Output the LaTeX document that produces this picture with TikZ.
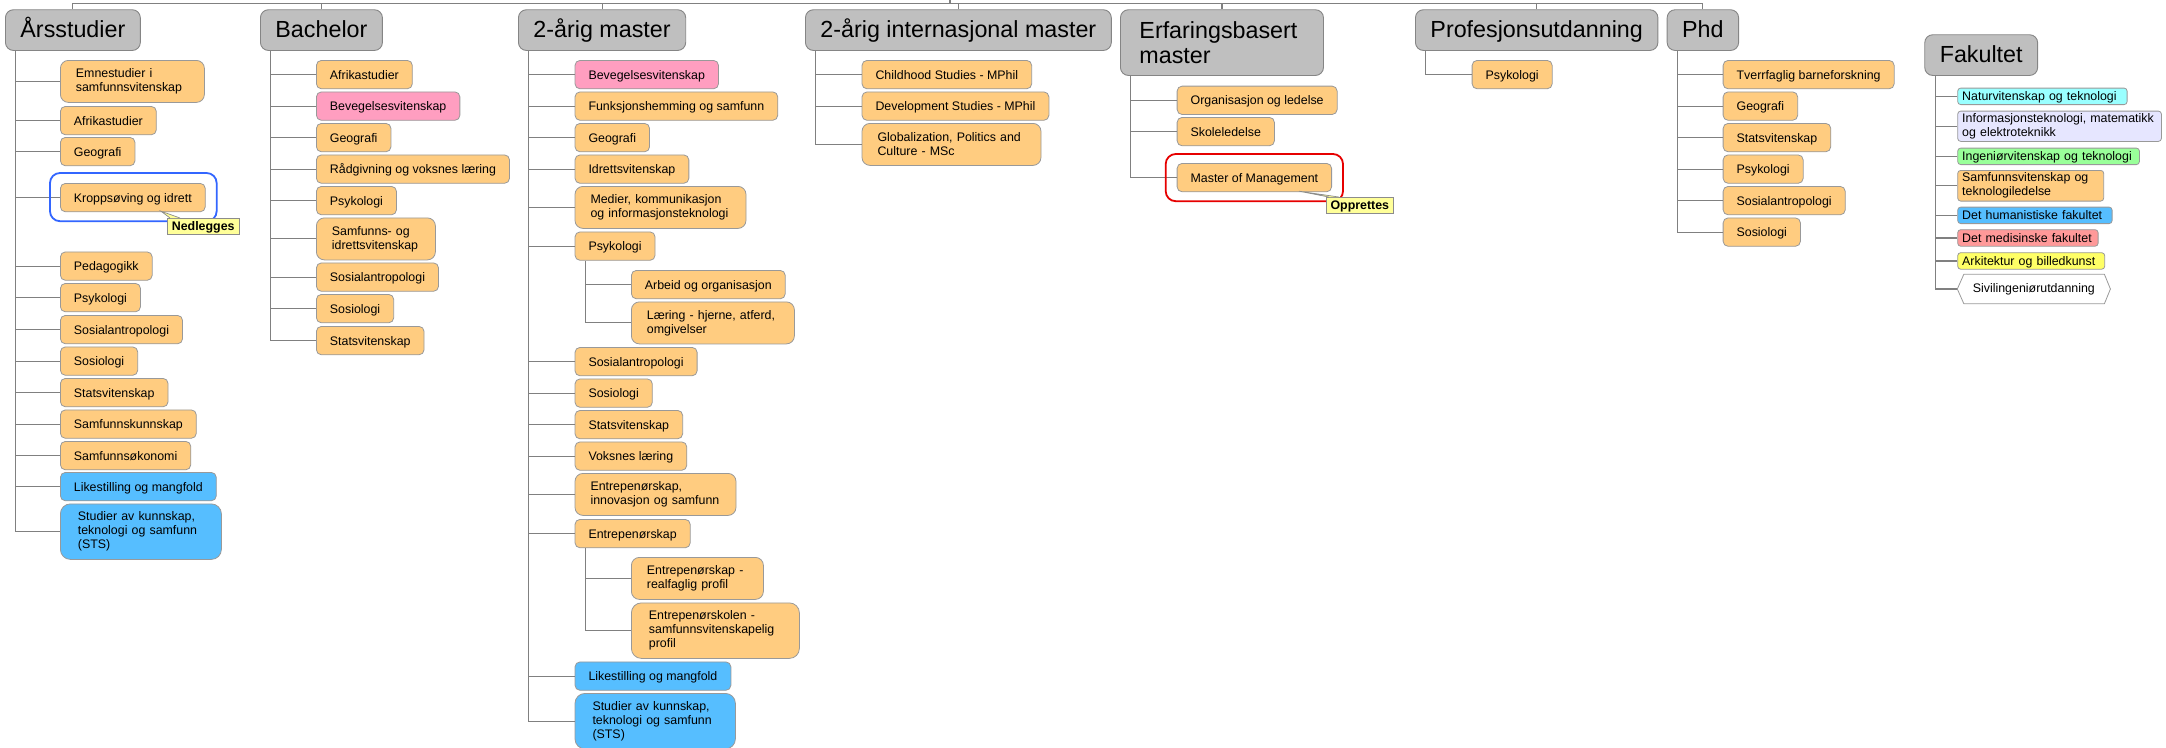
\documentclass[tikz,border=0pt]{standalone}
\usepackage{fontspec}
\setmainfont{Liberation Sans}
\definecolor{progorange}{RGB}{255,204,128}
\definecolor{progpink}{RGB}{255,158,192}
\definecolor{progblue}{RGB}{86,190,255}
\definecolor{faccyan}{RGB}{153,255,255}
\definecolor{faclavender}{RGB}{230,230,255}
\definecolor{facgreen}{RGB}{153,255,153}
\definecolor{facred}{RGB}{255,153,153}
\definecolor{facyellow}{RGB}{255,255,102}
\definecolor{tagyellow}{RGB}{255,255,153}
\definecolor{ringblue}{RGB}{51,102,255}
\definecolor{ringred}{RGB}{230,0,0}
\tikzset{
	conn/.style={draw=black!50, line width=1.1pt},
	heading/.style={draw=black!48, fill=black!25, line width=0.9pt, rounded corners=8pt, anchor=north west, inner xsep=15pt, inner ysep=0pt, minimum height=40.7pt, font=\fontsize{23.3}{25.6}\selectfont},
	onehead/.style={heading, text height=16.5pt, text depth=2pt},
	coursebase/.style={draw=black!40, fill=progorange, line width=0.8pt, rounded corners=5pt, anchor=north west, inner ysep=2pt, font=\fontsize{12.4}{14}\selectfont},
	course/.style={coursebase, inner xsep=13.5pt, minimum height=28.4pt, text height=9.4pt, text depth=0.6pt},
	coursetwo/.style={coursebase, rounded corners=8pt, inner xsep=15.5pt, align=left, minimum height=42pt},
	coursethree/.style={coursebase, rounded corners=10pt, inner xsep=17.5pt, align=left, minimum height=55.5pt},
	pinkcourse/.style={fill=progpink},
	bluecourse/.style={fill=progblue},
	facbox/.style={draw=black!40, line width=0.8pt, rounded corners=3pt, anchor=north west, inner xsep=4.5pt, inner ysep=1pt, align=left, minimum height=16.5pt, font=\fontsize{12.4}{14}\selectfont},
	faconeline/.style={facbox, text height=9.4pt, text depth=0.6pt},
	tagbox/.style={draw=black!45, fill=tagyellow, line width=0.7pt, anchor=north west, inner xsep=4.5pt, inner ysep=1pt, minimum height=15.5pt, text height=9.4pt, text depth=0.6pt, font=\bfseries\fontsize{12.4}{14}\selectfont},
	ringbox/.style={line width=1.8pt, rounded corners=10pt},
}

\begin{document}
\begin{tikzpicture}[x=1pt, y=-1pt]
	%%%%% START %%%%%
	
	\useasboundingbox (0, 0) rectangle (2166, 747);
	
	\node[onehead] (ars) at (5, 9.3) {Årsstudier};
	\node[coursetwo, text width=113pt] (ars1) at (60, 60) {Emnestudier i\\samfunnsvitenskap};
	\node[course] (ars2) at (60, 106) {Afrikastudier};
	\node[course] (ars3) at (60, 137) {Geografi};
	\node[course] (ars4) at (60, 183) {Kroppsøving og idrett};
	\node[course] (ars5) at (60, 251.5) {Pedagogikk};
	\node[course] (ars6) at (60, 283) {Psykologi};
	\node[course] (ars7) at (60, 315) {Sosialantropologi};
	\node[course] (ars8) at (60, 346.5) {Sosiologi};
	\node[course] (ars9) at (60, 378) {Statsvitenskap};
	\node[course] (ars10) at (60, 409.5) {Samfunnskunnskap};
	\node[course] (ars11) at (60, 441) {Samfunnsøkonomi};
	\node[course, bluecourse] (ars12) at (60, 472) {Likestilling og mangfold};
	\node[coursethree, bluecourse, text width=126pt] (ars13) at (60, 503.5) {Studier av kunnskap,\\teknologi og samfunn\\(STS)};
	
	\node[onehead] (bac) at (260, 9.3) {Bachelor};
	\node[course] (bac1) at (316, 60) {Afrikastudier};
	\node[course, pinkcourse] (bac2) at (316, 91.5) {Bevegelsesvitenskap};
	\node[course] (bac3) at (316, 123) {Geografi};
	\node[course] (bac4) at (316, 154.5) {Rådgivning og voksnes læring};
	\node[course] (bac5) at (316, 186) {Psykologi};
	\node[coursetwo, text width=88pt] (bac6) at (316, 217.5) {Samfunns- og\\idrettsvitenskap};
	\node[course] (bac7) at (316, 262.5) {Sosialantropologi};
	\node[course] (bac8) at (316, 294) {Sosiologi};
	\node[course] (bac9) at (316, 326) {Statsvitenskap};
	
	\node[onehead] (mas) at (518, 9.3) {2-årig master};
	\node[course, pinkcourse] (mas1) at (574.6, 60) {Bevegelsesvitenskap};
	\node[course] (mas2) at (574.6, 91.5) {Funksjonshemming og samfunn};
	\node[course] (mas3) at (574.6, 123) {Geografi};
	\node[course] (mas4) at (574.6, 154.5) {Idrettsvitenskap};
	\node[coursetwo, text width=140pt] (mas5) at (574.6, 186) {Medier, kommunikasjon\\og informasjonsteknologi};
	\node[course] (mas6) at (574.6, 231.5) {Psykologi};
	\node[course] (mas6a) at (631, 270) {Arbeid og organisasjon};
	\node[coursetwo, text width=132pt] (mas6b) at (631, 301.5) {Læring - hjerne, atferd,\\omgivelser};
	\node[course] (mas7) at (574.6, 347) {Sosialantropologi};
	\node[course] (mas8) at (574.6, 378.5) {Sosiologi};
	\node[course] (mas9) at (574.6, 410) {Statsvitenskap};
	\node[course] (mas10) at (574.6, 441.5) {Voksnes læring};
	\node[coursetwo, text width=130pt] (mas11) at (574.6, 473) {Entrepenørskap,\\innovasjon og samfunn};
	\node[course] (mas12) at (574.6, 519) {Entrepenørskap};
	\node[coursetwo, text width=101pt] (mas12a) at (631, 557) {Entrepenørskap -\\realfaglig profil};
	\node[coursethree, text width=133pt] (mas12b) at (631, 602.5) {Entrepenørskolen -\\samfunnsvitenskapelig\\profil};
	\node[course, bluecourse] (mas13) at (574.6, 661.5) {Likestilling og mangfold};
	\node[coursethree, bluecourse, text width=125.4pt] (mas14) at (574.6, 693) {Studier av kunnskap,\\teknologi og samfunn\\(STS)};
	
	\node[onehead] (int) at (805, 9.3) {2-årig internasjonal master};
	\node[course] (int1) at (861.6, 60) {Childhood Studies - MPhil};
	\node[course] (int2) at (861.6, 91.5) {Development Studies - MPhil};
	\node[coursetwo, text width=148pt] (int3) at (861.6, 123) {Globalization, Politics and\\Culture - MSc};
	
	\node[heading, align=left, text width=165pt, inner xsep=19pt, minimum height=65.7pt] (erf) at (1120, 9.3) {Erfaringsbasert\\master};
	\node[course] (erf1) at (1176.7, 85.7) {Organisasjon og ledelse};
	\node[course] (erf2) at (1176.7, 117) {Skoleledelse};
	\node[course] (erf3) at (1176.7, 163) {Master of Management};
	
	\node[onehead] (pro) at (1415, 9.3) {Profesjonsutdanning};
	\node[course] (pro1) at (1471.7, 60) {Psykologi};
	
	\node[onehead] (phd) at (1666.7, 9.3) {Phd};
	\node[course] (phd1) at (1722.7, 60) {Tverrfaglig barneforskning};
	\node[course] (phd2) at (1722.7, 91.5) {Geografi};
	\node[course] (phd3) at (1722.7, 123) {Statsvitenskap};
	\node[course] (phd4) at (1722.7, 154.5) {Psykologi};
	\node[course] (phd5) at (1722.7, 186) {Sosialantropologi};
	\node[course] (phd6) at (1722.7, 217.5) {Sosiologi};
	
	\node[onehead] (fak) at (1924.3, 34.3) {Fakultet};
	\node[faconeline, fill=faccyan, text width=160.4pt] (fak1) at (1957.3, 87.7) {Naturvitenskap og teknologi};
	\node[facbox, fill=faclavender, text width=194.7pt, minimum height=30.3pt] (fak2) at (1957.3, 110.7) {Informasjonsteknologi, matematikk\\og elektroteknikk};
	\node[faconeline, fill=facgreen, text width=172.7pt] (fak3) at (1957.3, 147.7) {Ingeniørvitenskap og teknologi};
	\node[facbox, fill=progorange, text width=137pt, minimum height=30.7pt] (fak4) at (1957.3, 170) {Samfunnsvitenskap og\\teknologiledelse};
	\node[faconeline, fill=progblue, text width=145.4pt] (fak5) at (1957.3, 206.7) {Det humanistiske fakultet};
	\node[faconeline, fill=facred, text width=131.4pt] (fak6) at (1957.3, 229.3) {Det medisinske fakultet};
	\node[faconeline, fill=facyellow, text width=138pt] (fak7) at (1957.3, 252.3) {Arkitektur og billedkunst};
	\node[anchor=north west, minimum width=152.7pt, minimum height=29pt, inner sep=0pt, font=\fontsize{12.4}{14}\selectfont] (fak8) at (1957.3, 274.3) {Sivilingeniørutdanning};
	\draw[draw=black!40, line width=0.8pt] (fak8.west) -- ([xshift=6.5pt]fak8.north west) -- ([xshift=-6pt]fak8.north east) -- (fak8.east) -- ([xshift=-6pt]fak8.south east) -- ([xshift=6.5pt]fak8.south west) -- cycle;
	
	\coordinate (bus) at (950, 3.3);
	\coordinate (root) at (950, -10);
	\draw[conn] (root) -- (bus);
	\draw[conn] (ars.north) |- (bus) (bac.north) |- (bus) (mas.north) |- (bus) (int.north) |- (bus)
		(erf.north) |- (bus) (pro.north) |- (bus) (phd.north) |- (bus);
	
	\coordinate (arsT) at ([xshift=10.8pt]ars.south west);
	\draw[conn] (arsT) |- (ars1.west) (arsT) |- (ars2.west) (arsT) |- (ars3.west) (arsT) |- (ars4.west)
		(arsT) |- (ars5.west) (arsT) |- (ars6.west) (arsT) |- (ars7.west) (arsT) |- (ars8.west)
		(arsT) |- (ars9.west) (arsT) |- (ars10.west) (arsT) |- (ars11.west) (arsT) |- (ars12.west)
		(arsT) |- (ars13.west);
	
	\coordinate (bacT) at ([xshift=10.8pt]bac.south west);
	\draw[conn] (bacT) |- (bac1.west) (bacT) |- (bac2.west) (bacT) |- (bac3.west) (bacT) |- (bac4.west)
		(bacT) |- (bac5.west) (bacT) |- (bac6.west) (bacT) |- (bac7.west) (bacT) |- (bac8.west)
		(bacT) |- (bac9.west);
	
	\coordinate (masT) at ([xshift=10.8pt]mas.south west);
	\draw[conn] (masT) |- (mas1.west) (masT) |- (mas2.west) (masT) |- (mas3.west) (masT) |- (mas4.west)
		(masT) |- (mas5.west) (masT) |- (mas6.west) (masT) |- (mas7.west) (masT) |- (mas8.west)
		(masT) |- (mas9.west) (masT) |- (mas10.west) (masT) |- (mas11.west) (masT) |- (mas12.west)
		(masT) |- (mas13.west) (masT) |- (mas14.west);
	\coordinate (mas6T) at ([xshift=10.8pt]mas6.south west);
	\draw[conn] (mas6T) |- (mas6a.west) (mas6T) |- (mas6b.west);
	\coordinate (mas12T) at ([xshift=10.8pt]mas12.south west);
	\draw[conn] (mas12T) |- (mas12a.west) (mas12T) |- (mas12b.west);
	
	\coordinate (intT) at ([xshift=10.8pt]int.south west);
	\draw[conn] (intT) |- (int1.west) (intT) |- (int2.west) (intT) |- (int3.west);
	
	\coordinate (erfT) at ([xshift=10.8pt]erf.south west);
	\draw[conn] (erfT) |- (erf1.west) (erfT) |- (erf2.west) (erfT) |- (erf3.west);
	
	\coordinate (proT) at ([xshift=10.8pt]pro.south west);
	\draw[conn] (proT) |- (pro1.west);
	
	\coordinate (phdT) at ([xshift=10.8pt]phd.south west);
	\draw[conn] (phdT) |- (phd1.west) (phdT) |- (phd2.west) (phdT) |- (phd3.west)
		(phdT) |- (phd4.west) (phdT) |- (phd5.west) (phdT) |- (phd6.west);
	
	\coordinate (fakT) at ([xshift=10.8pt]fak.south west);
	\draw[conn] (fakT) |- (fak1.west) (fakT) |- (fak2.west) (fakT) |- (fak3.west) (fakT) |- (fak4.west)
		(fakT) |- (fak5.west) (fakT) |- (fak6.west) (fakT) |- (fak7.west) (fakT) |- (fak8.west);
	
	\draw[ringbox, draw=ringblue] ([shift={(-10,-10)}]ars4.north west) rectangle ([shift={(11,9)}]ars4.south east);
	\node[tagbox] (ned) at (167, 218) {Nedlegges};
	\coordinate (nedtip) at (161, 211.2);
	\fill[tagyellow] (nedtip) -- ([xshift=3pt]ned.north west) -- ([xshift=13pt]ned.north west) -- cycle;
	\draw[draw=black!45, line width=0.7pt] ([xshift=3pt]ned.north west) -- (nedtip) -- ([xshift=13pt]ned.north west);
	
	\draw[ringbox, draw=ringred] ([shift={(-11,-9)}]erf3.north west) rectangle ([shift={(11,9)}]erf3.south east);
	\node[tagbox] (opp) at (1325.7, 197) {Opprettes};
	\coordinate (opptip) at (1299, 191.2);
	\fill[tagyellow] (opptip) -- ([xshift=3pt]opp.north west) -- ([xshift=13pt]opp.north west) -- cycle;
	\draw[draw=black!45, line width=0.7pt] ([xshift=3pt]opp.north west) -- (opptip) -- ([xshift=13pt]opp.north west);
	
	%%%%% END %%%%%
\end{tikzpicture}
\end{document}
